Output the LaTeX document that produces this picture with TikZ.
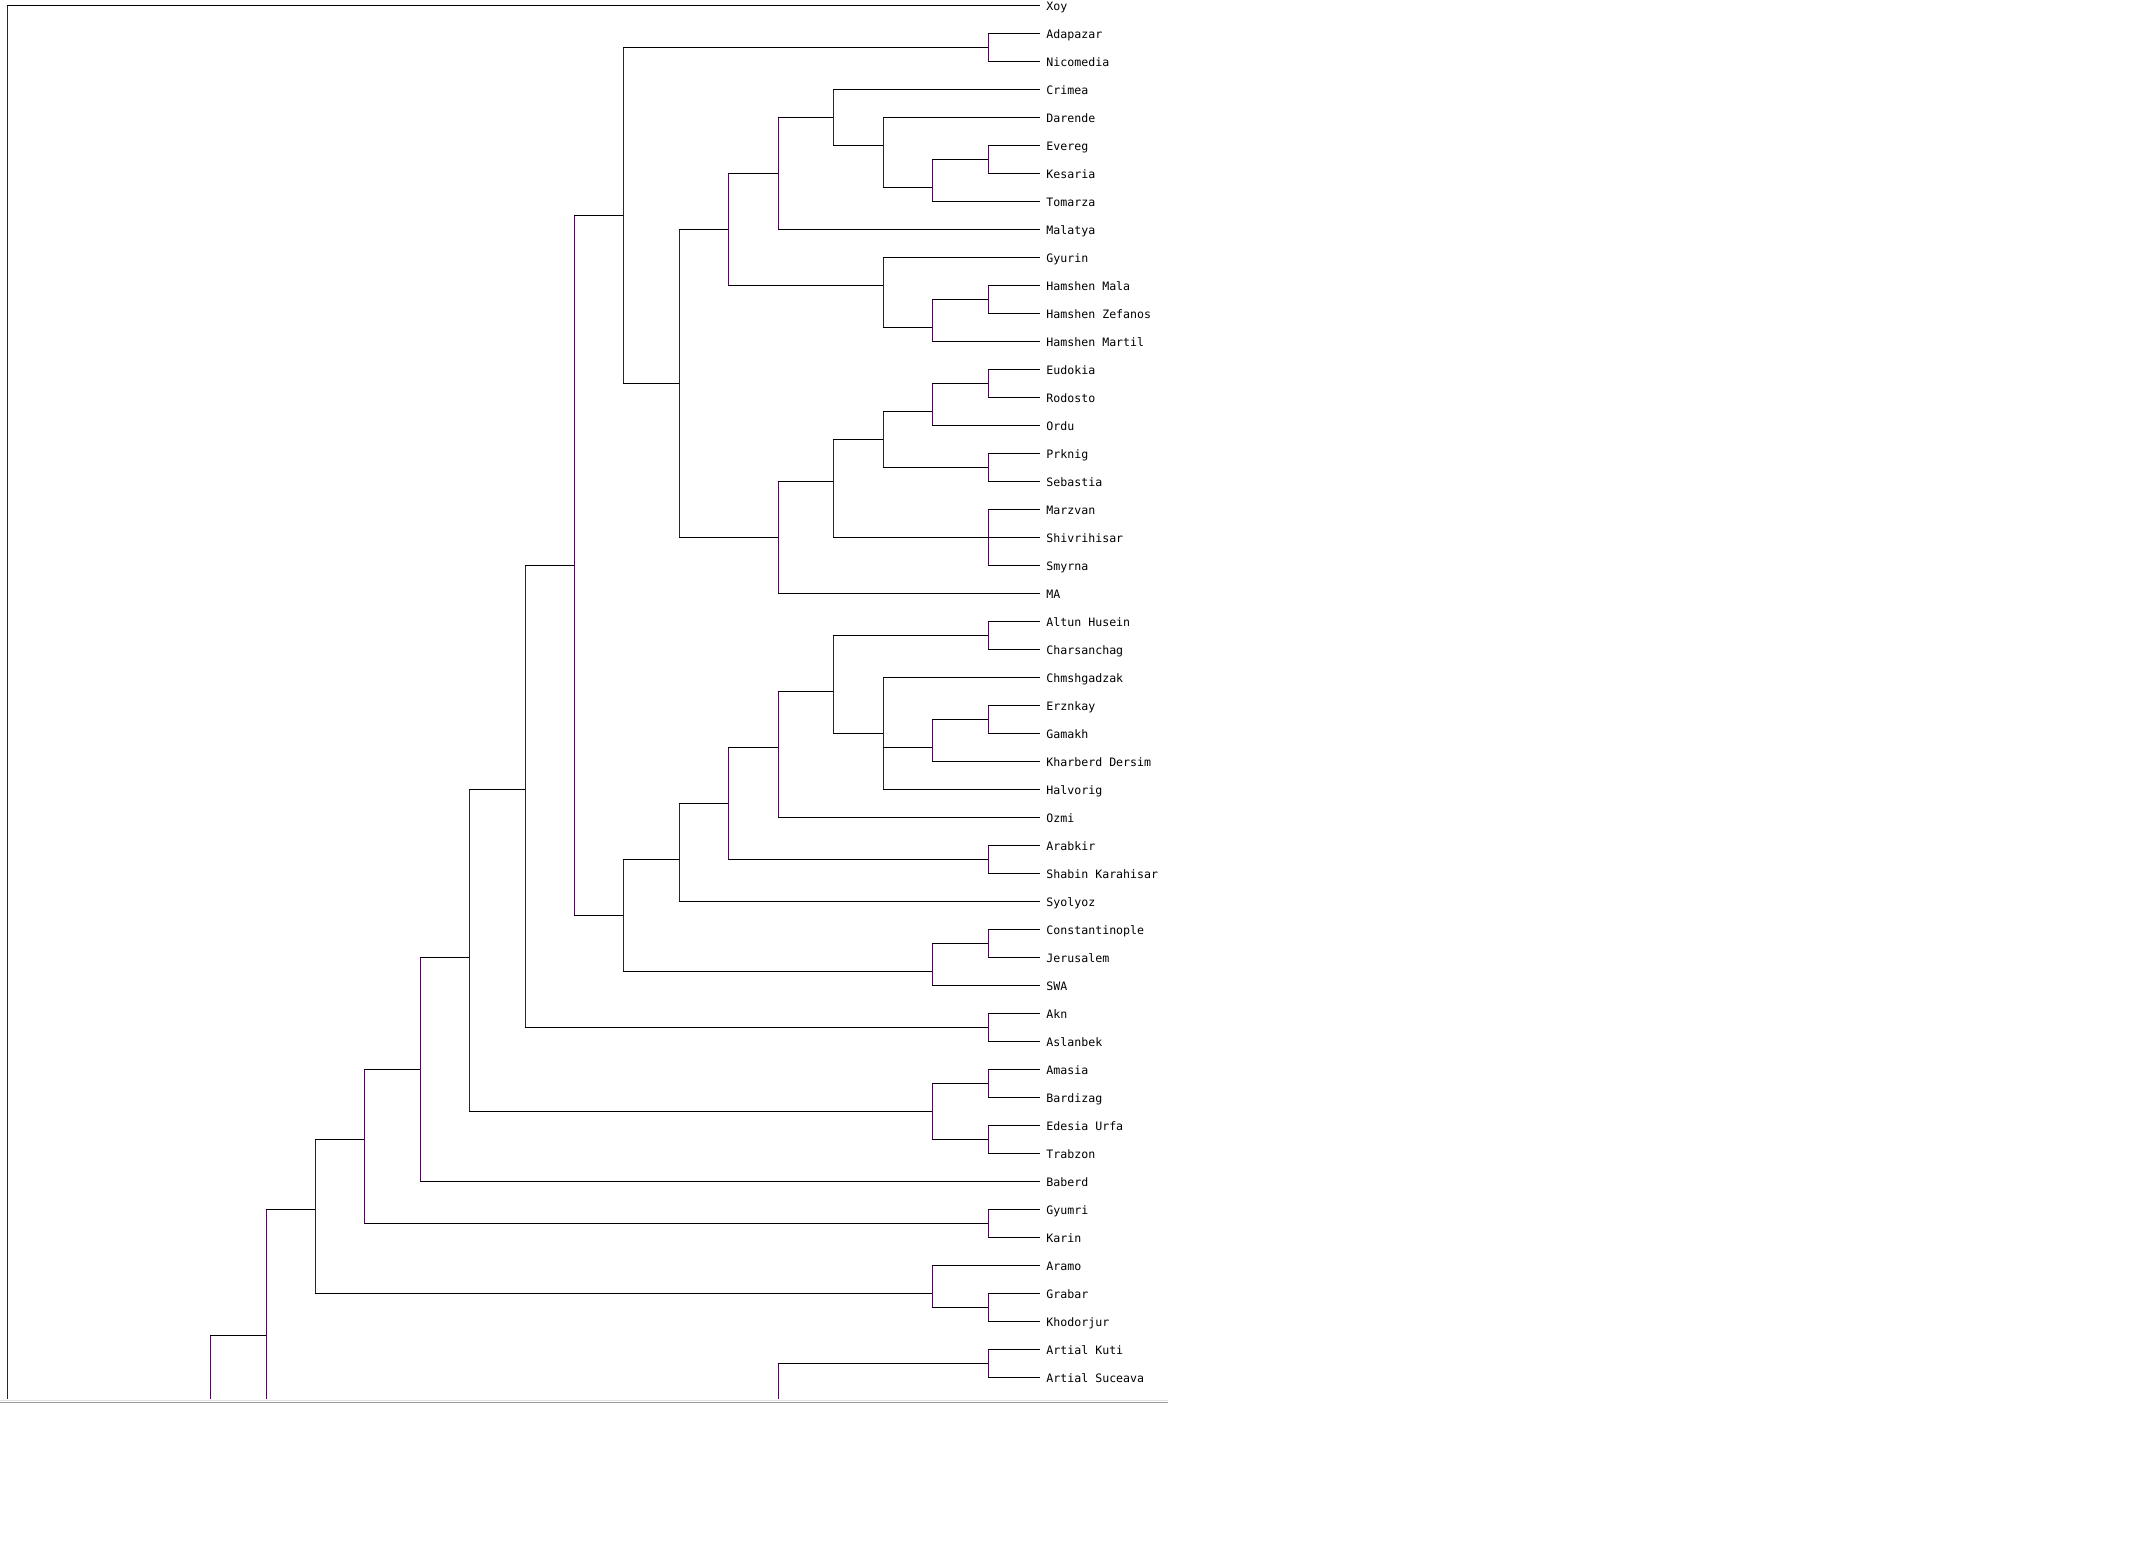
\documentclass[tikz,border=0pt]{standalone}
\usepackage{fontspec}
\setmonofont{DejaVu Sans Mono}
\usepackage{xcolor}
\usepackage{tikz}
\definecolor{branch}{HTML}{4A0C52}
\definecolor{lightframe}{HTML}{E2E2E2}
\definecolor{darkframe}{HTML}{9A9A9A}
\tikzset{
  leaf/.style={
    anchor=west,inner xsep=3pt,inner ysep=0pt,
    text height=5.4pt,text depth=0pt,
    font=\ttfamily\fontsize{5.8}{7}\selectfont
  },
  hline/.style={draw=black,line width=.5pt},
  vline/.style={draw=branch,line width=.5pt},
  frame/.style={line width=.5pt}
}
\begin{document}
\begin{tikzpicture}[x=0.5pt,y=-14pt]
\path[fill=white,use as bounding box] (0,-0.19) rectangle (2139,55.67);

\foreach \lbl [count=\i from 0] in {Xoy,Adapazar,Nicomedia,Crimea,Darende,Evereg,Kesaria,Tomarza,Malatya,Gyurin,Hamshen Mala,Hamshen Zefanos,Hamshen Martil,Eudokia,Rodosto,Ordu,Prknig,Sebastia,Marzvan,Shivrihisar,Smyrna,MA,Altun Husein,Charsanchag,Chmshgadzak,Erznkay,Gamakh,Kharberd Dersim,Halvorig,Ozmi,Arabkir,Shabin Karahisar,Syolyoz,Constantinople,Jerusalem,SWA,Akn,Aslanbek,Amasia,Bardizag,Edesia Urfa,Trabzon,Baberd,Gyumri,Karin,Aramo,Grabar,Khodorjur,Artial Kuti,Artial Suceava}
  \node[leaf] (l\i) at (1040,\i) {\lbl};

\coordinate (adnic) at (988,1.5);
\coordinate (evke) at (988,5.5);
\coordinate (evkto) at (932,6.5);
\coordinate (daren) at (883,5);
\coordinate (crim) at (833,4);
\coordinate (malat) at (778,6);
\coordinate (hamzef) at (988,10.5);
\coordinate (hammar) at (932,11.5);
\coordinate (gyur) at (883,10);
\coordinate (cent) at (728,8);
\coordinate (eurod) at (988,13.5);
\coordinate (ordu) at (932,14.5);
\coordinate (prseb) at (988,16.5);
\coordinate (prkn) at (883,15.5);
\coordinate (marz) at (988,19);
\coordinate (sebas) at (833,17);
\coordinate (mawest) at (778,19);
\coordinate (north) at (679,13.5);
\coordinate (upper) at (623,7.5);
\coordinate (altch) at (988,22.5);
\coordinate (ergam) at (988,25.5);
\coordinate (kharb) at (932,26.5);
\coordinate (chms) at (883,26);
\coordinate (altun) at (833,24.5);
\coordinate (ozmi) at (778,26.5);
\coordinate (arsh) at (988,30.5);
\coordinate (arab) at (728,28.5);
\coordinate (syol) at (679,30.5);
\coordinate (conje) at (988,33.5);
\coordinate (swa) at (932,34.5);
\coordinate (lower) at (623,32.5);
\coordinate (core) at (574,20);
\coordinate (akas) at (988,36.5);
\coordinate (withakn) at (525,28);
\coordinate (amba) at (988,38.5);
\coordinate (edtr) at (988,40.5);
\coordinate (amtr) at (932,39.5);
\coordinate (withama) at (469,34);
\coordinate (withbab) at (420,38);
\coordinate (gyka) at (988,43.5);
\coordinate (withgyu) at (364,40.5);
\coordinate (grkh) at (988,46.5);
\coordinate (argr) at (932,46);
\coordinate (withara) at (315,43);
\coordinate (lvl15) at (266,47.5);
\coordinate (lvl16) at (210,47.5);
\coordinate (artial) at (988,48.5);
\coordinate (artlow) at (778,48.5);
\coordinate (root) at (7,0);
\coordinate (cut) at (0,49.79);

\foreach \p/\a/\b in {adnic/l1/l2,evke/l5/l6,evkto/evke/l7,daren/l4/evkto,
  crim/l3/daren,malat/crim/l8,hamzef/l10/l11,hammar/hamzef/l12,gyur/l9/hammar,
  cent/malat/gyur,eurod/l13/l14,ordu/eurod/l15,prseb/l16/l17,prkn/ordu/prseb,
  marz/l18/l20,sebas/prkn/marz,mawest/sebas/l21,north/cent/mawest,
  upper/adnic/north,altch/l22/l23,ergam/l25/l26,kharb/ergam/l27,chms/l24/l28,
  altun/altch/chms,ozmi/altun/l29,arsh/l30/l31,arab/ozmi/arsh,syol/arab/l32,
  conje/l33/l34,swa/conje/l35,lower/syol/swa,core/upper/lower,akas/l36/l37,
  withakn/core/akas,amba/l38/l39,edtr/l40/l41,amtr/amba/edtr,
  withama/withakn/amtr,withbab/withama/l42,gyka/l43/l44,withgyu/withbab/gyka,
  grkh/l46/l47,argr/l45/grkh,withara/withgyu/argr,artial/l48/l49}
{
  \draw[vline] (\p |- \a) -- (\p |- \b);
  \draw[hline] (\p |- \a) -- (\a);
  \draw[hline] (\p |- \b) -- (\b);
}
\draw[hline] (marz) -- (l19);
\draw[hline] (chms |- kharb) -- (kharb);

% branches running past the lower edge
\draw[vline] (lvl15 |- withara) -- (lvl15 |- cut);
\draw[hline] (lvl15 |- withara) -- (withara);
\draw[vline] (lvl16) -- (lvl16 |- cut);
\draw[hline] (lvl16) -- (lvl15);
\draw[vline] (artlow) -- (artlow |- cut);
\draw[hline] (artlow) -- (artial);
\draw[vline] (root) -- (root |- cut);
\draw[hline] (root) -- (l0);

\draw[frame,lightframe] (0,49.84) -- (1168,49.84);
\draw[frame,darkframe] (0,49.91) -- (1168,49.91);
\end{tikzpicture}
\end{document}
